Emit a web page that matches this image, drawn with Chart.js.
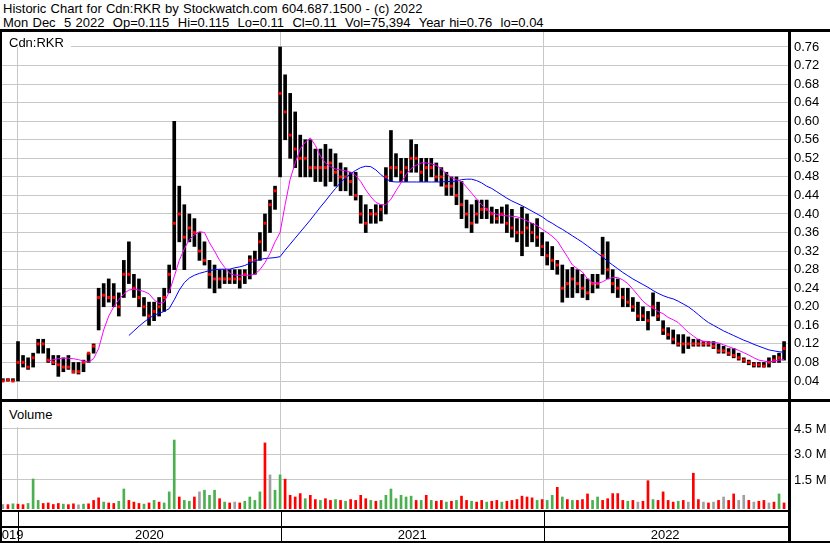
<!DOCTYPE html>
<html>
<head>
<meta charset="utf-8">
<title>Cdn:RKR historic chart</title>
<script src="https://cdn.jsdelivr.net/npm/chart.js@4.4.0/dist/chart.umd.min.js"></script>
<style>
body { margin: 0; background: #fff; }
#page { position: relative; width: 830px; height: 543px; overflow: hidden; background: #fff;
	font-family: "Liberation Sans", Arial, sans-serif; font-size: 13px; color: #000; }
#hdr { position: absolute; left: 3px; top: 1.5px; line-height: 14.7px; white-space: pre; word-spacing: 0.6px; }
.rule { position: absolute; background: #000; }
.lbl { position: absolute; background: #fff; line-height: 15px; white-space: pre; padding-left: 7px; }
canvas { position: absolute; left: 0; }
</style>
</head>
<body>
<div id="page">
	<canvas id="priceChart" width="830" height="367" style="top:32px"></canvas>
	<canvas id="volChart" width="830" height="141" style="top:402px"></canvas>
	<div id="hdr">Historic Chart for Cdn:RKR by Stockwatch.com 604.687.1500 - (c) 2022
Mon Dec  5 2022  Op=0.115  Hi=0.115  Lo=0.11  Cl=0.11  Vol=75,394  Year hi=0.76  lo=0.04</div>
	<div class="lbl" style="left:2px;top:32px;width:62px;height:12px;padding-top:3px">Cdn:RKR</div>
	<div class="lbl" style="left:2px;top:402px;width:55px;height:20px;padding-top:5px">Volume</div>
	<div class="rule" style="left:0;top:29px;width:830px;height:3px"></div>
	<div class="rule" style="left:0;top:399px;width:830px;height:3px"></div>
	<div class="rule" style="left:0;top:32px;width:2px;height:511px"></div>
	<div class="rule" style="left:788px;top:32px;width:3px;height:511px"></div>
	<div class="rule" style="left:0;top:510px;width:789px;height:2px"></div>
	<div class="rule" style="left:0;top:526px;width:789px;height:2px"></div>
	<div class="rule" style="left:0;top:541px;width:830px;height:2px"></div>
</div>
<script>
// weekly bars, first one is 3 weeks before Jan 1 2020 (x = weeks since Jan 1 2020)
var firstWeek = -3;

var yearLines = [0, 52.14, 104.29];
var yearNames = ['2019', '2020', '2021', '2022'];
var yearLabelAt = [-1.78, 26.07, 78.21, 128.4];

var priceTicks = [0.04, 0.08, 0.12, 0.16, 0.20, 0.24, 0.28, 0.32, 0.36, 0.40,
	0.44, 0.48, 0.52, 0.56, 0.60, 0.64, 0.68, 0.72, 0.76];
var volTicks = [1.5, 3.0, 4.5]; // millions

var hi = [
	.045, .045, .045, .125, .095, .09, .10, .13, .13, .11,      // w -3..6
	.095, .095, .09, .095, .08, .08, .085, .10, .12, .24,        // w 7..16
	.25, .26, .25, .23, .30, .34, .27, .26, .22, .21,            // w 17..26
	.21, .22, .24, .29, .60, .46, .42, .40, .39, .36,            // w 27..36
	.34, .30, .29, .28, .28, .28, .28, .28, .28, .31,            // w 37..46
	.32, .36, .40, .43, .46, .76, .70, .66, .62, .57,            // w 47..56
	.56, .56, .54, .54, .55, .54, .53, .51, .50, .49,            // w 57..66
	.49, .44, .42, .41, .42, .42, .50, .58, .53, .52,            // w 67..76
	.52, .56, .55, .52, .52, .52, .51, .50, .49, .48,            // w 77..86
	.48, .47, .43, .42, .43, .43, .43, .415, .41, .415,          // w 87..96
	.42, .41, .39, .415, .40, .38, .39, .36, .34, .33,           // w 97..106
	.30, .29, .28, .285, .28, .27, .26, .27, .27, .35,           // w 107..116
	.34, .28, .26, .24, .24, .22, .21, .20, .19, .23,            // w 117..126
	.21, .17, .155, .15, .14, .14, .135, .13, .13, .125,         // w 127..136
	.125, .125, .12, .115, .11, .11, .10, .09, .085, .08,        // w 137..146
	.08, .08, .09, .095, .10, .125                               // w 147..152
];
var lo = [
	.04, .04, .04, .04, .07, .065, .07, .10, .10, .08,
	.075, .05, .06, .065, .057, .055, .06, .08, .10, .15,
	.20, .21, .20, .18, .22, .25, .22, .20, .18, .16,
	.17, .18, .19, .23, .28, .34, .28, .34, .33, .30,
	.29, .24, .23, .24, .25, .25, .25, .24, .25, .26,
	.27, .30, .32, .36, .41, .48, .56, .52, .50, .48,
	.48, .48, .47, .47, .46, .47, .46, .45, .45, .44,
	.43, .38, .36, .38, .38, .385, .40, .47, .48, .47,
	.47, .49, .49, .47, .47, .48, .47, .46, .44, .44,
	.42, .39, .37, .36, .38, .39, .39, .38, .38, .38,
	.36, .35, .34, .31, .33, .34, .33, .31, .29, .28,
	.27, .21, .22, .22, .23, .22, .215, .23, .24, .27,
	.26, .23, .22, .20, .20, .19, .17, .17, .15, .18,
	.17, .14, .13, .12, .115, .10, .11, .115, .115, .115,
	.115, .11, .10, .10, .095, .09, .085, .08, .075, .07,
	.07, .07, .07, .08, .08, .085
];
var cl = [
	.04, .042, .04, .08, .08, .07, .09, .12, .12, .085,
	.08, .075, .07, .07, .06, .06, .08, .10, .115, .22,
	.225, .22, .22, .20, .27, .27, .24, .22, .20, .18,
	.19, .20, .22, .27, .38, .40, .35, .37, .36, .32,
	.30, .27, .26, .26, .26, .26, .26, .26, .27, .30,
	.30, .34, .38, .42, .45, .66, .62, .57, .54, .52,
	.52, .50, .50, .50, .50, .51, .49, .48, .48, .47,
	.44, .40, .38, .40, .40, .41, .48, .50, .50, .49,
	.50, .52, .52, .49, .50, .50, .48, .48, .46, .46,
	.44, .42, .40, .38, .40, .41, .41, .40, .39, .40,
	.38, .37, .36, .36, .37, .36, .35, .33, .31, .30,
	.29, .24, .25, .26, .25, .24, .23, .25, .25, .31,
	.28, .25, .24, .22, .21, .20, .18, .18, .17, .20,
	.18, .15, .14, .13, .12, .12, .12, .12, .12, .12,
	.12, .115, .105, .105, .10, .095, .09, .085, .08, .075,
	.075, .072, .08, .085, .09, .11
];
// pink (short) moving average
var maPink = [
	null, null, null, null, null, null, null, null, null, .083,
	.086, .088, .089, .089, .088, .086, .083, .081, .088, .11,
	.15, .18, .20, .215, .228, .236, .238, .236, .233, .228,
	.215, .207, .21, .232, .265, .30, .325, .345, .355, .362,
	.36, .338, .32, .30, .285, .272, .268, .268, .268, .268,
	.27, .28, .295, .315, .34, .36, .42, .475, .51, .54,
	.555, .564, .548, .525, .51, .502, .497, .495, .493, .49,
	.483, .47, .452, .437, .425, .42, .42, .432, .45, .467,
	.485, .498, .505, .51, .51, .508, .505, .497, .487, .478,
	.474, .47, .458, .445, .432, .42, .41, .403, .399, .397,
	.396, .395, .394, .39, .385, .38, .375, .367, .36, .352,
	.342, .325, .308, .29, .282, .275, .26, .252, .25, .254,
	.26, .263, .263, .258, .25, .238, .225, .212, .203, .197,
	.19, .185, .177, .172, .166, .155, .145, .137, .129, .126,
	.124, .123, .122, .118, .114, .11, .106, .101, .096, .09,
	.085, .083, .081, .083, .085, .086
];
// blue (long) moving average
var maBlue = [
	null, null, null, null, null, null, null, null, null, null,
	null, null, null, null, null, null, null, null, null, null,
	null, null, null, null, null, .138, .148, .158, .167, .175,
	.182, .186, .19, .196, .215, .236, .252, .262, .268, .272,
	.275, .278, .28, .281, .281, .281, .284, .286, .289, .294,
	.299, .302, .304, .305, .306, .308, .322, .335, .348, .361,
	.374, .387, .401, .415, .428, .442, .455, .468, .478, .487,
	.494, .5, .503, .502, .495, .485, .476, .47, .469, .469,
	.469, .469, .469, .469, .469, .469, .469, .469, .47, .47,
	.471, .474, .475, .475, .472, .467, .46, .455, .448, .441,
	.434, .428, .423, .418, .412, .406, .4, .394, .386, .38,
	.373, .367, .36, .353, .346, .339, .331, .323, .315, .307,
	.298, .29, .282, .274, .267, .26, .254, .248, .242, .235,
	.229, .224, .22, .217, .212, .206, .2, .192, .183, .174,
	.166, .16, .154, .148, .143, .138, .133, .128, .124, .119,
	.115, .111, .107, .105, .103, .102
];
// volume in millions, and bar colour: r = down, g = up, k = unchanged
var vol = [
	.06, .05, .1, .08, .05, .12, 1.56, .3, .12, .15,
	.06, .12, .08, .05, .1, .04, .08, .1, .3, .45,
	.2, .15, .12, .25, .97, .3, .2, .12, .08, .15,
	.3, .2, .15, .8, 3.85, .5, .3, .25, .5, .8,
	.9, .6, .9, .4, .2, .15, .2, .15, .25, .5,
	.3, .8, 3.68, 1.8, .9, 1.8, 1.55, .6, .5, .7,
	.4, .6, .35, .3, .4, .3, .35, .3, .25, .35,
	.3, .6, .4, .3, .25, .3, .6, .97, .4, .6,
	.5, .55, .3, .3, .6, .3, .25, .3, .2, .25,
	.3, .55, .3, .25, .2, .3, .2, .25, .3, .2,
	.25, .3, .35, .55, .5, .45, .3, .35, .3, .6,
	1.07, .5, .35, .3, .3, .35, .68, .3, .5, .3,
	.4, .7, .7, .3, .25, .3, .2, .25, 1.46, .35,
	.3, .8, .3, .2, .25, .3, .2, 1.9, .35, .2,
	.15, .2, .3, .5, .3, .68, .3, .6, .3, .2,
	.25, .3, .15, .2, .68, .15
];
var volDir = [
	'k','r','g','r','r','g','g','g','r','r',
	'r','r','g','r','r','k','g','r','r','r',
	'g','r','r','g','g','r','r','r','g','r',
	'g','r','g','g','g','r','g','g','r','k',
	'g','g','g','r','g','r','k','r','g','g',
	'g','g','r','k','g','g','r','r','r','r',
	'g','r','r','g','r','r','g','r','g','r',
	'r','r','r','g','r','g','g','g','g','g',
	'g','g','r','g','r','g','r','r','g','r',
	'g','r','r','g','r','r','g','r','r','g',
	'r','r','r','r','r','r','g','r','g','g',
	'r','g','r','g','r','r','r','g','g','r',
	'r','r','r','r','g','r','k','r','r','g',
	'r','r','r','r','g','r','k','r','r','k',
	'r','k','r','k','r','r','k','k','r','k',
	'r','r','k','r','g','r'
];

// x range: Jan 1 2020 sits 18px from the left, about 5.04px a week
var xMin = -3.571;
var xMax = 152.78;

var dirColor = { r: '#ff0000', g: '#4caf50', k: '#a0a0a0' };
var gridGrey = '#c8c8c8';

Chart.defaults.font.family = '"Liberation Sans", Arial, sans-serif';
Chart.defaults.font.size = 13;
Chart.defaults.color = '#000';

function pts(arr) {
	var out = [];
	for (var i = 0; i < arr.length; i++) {
		if (arr[i] !== null) out.push({ x: firstWeek + i, y: arr[i] });
	}
	return out;
}

var rangeBars = [];
for (var i = 0; i < hi.length; i++) {
	rangeBars.push({ x: firstWeek + i, y: [lo[i], hi[i]] });
}
var volColors = volDir.map(function(d) { return dirColor[d]; });

function noPad(s) { s.paddingLeft = 0; s.paddingRight = 0; s.paddingTop = 0; s.paddingBottom = 0; }

// price panel
new Chart(document.getElementById('priceChart'), {
	type: 'bar',
	data: {
		datasets: [
			{ type: 'line', data: pts(maPink), borderColor: '#ff00ff', borderWidth: 1, pointRadius: 0, tension: 0, order: 1 },
			{ type: 'line', data: pts(maBlue), borderColor: '#0000ff', borderWidth: 1, pointRadius: 0, tension: 0, order: 1 },
			{ type: 'line', data: pts(cl), showLine: false, pointStyle: 'rect', pointRadius: 2.1,
				pointBackgroundColor: '#ff0000', pointBorderWidth: 0, order: 2 },
			{ type: 'bar', data: rangeBars, backgroundColor: '#000', barThickness: 3, order: 3 }
		]
	},
	options: {
		responsive: false, animation: false, devicePixelRatio: 1,
		layout: { padding: 0, autoPadding: false },
		plugins: { legend: { display: false }, tooltip: { enabled: false } },
		scales: {
			x: {
				type: 'linear', min: xMin, max: xMax, offset: false,
				afterBuildTicks: function(s) { s.ticks = yearLines.map(function(v) { return { value: v }; }); },
				afterFit: function(s) { s.height = 0; noPad(s); },
				ticks: { display: false },
				border: { display: false },
				grid: { color: gridGrey, drawTicks: false, offset: false }
			},
			y: {
				position: 'right', min: 0.0012, max: 0.7923,
				afterBuildTicks: function(s) { s.ticks = priceTicks.map(function(v) { return { value: v }; }); },
				afterFit: function(s) { s.width = 42; noPad(s); },
				ticks: { padding: 6, callback: function(v) { return v.toFixed(2); } },
				border: { display: false },
				grid: { color: gridGrey, drawTicks: false }
			}
		}
	}
});

// black year lines in the date strip under the volume panel
var stripLines = {
	id: 'stripLines',
	afterDraw: function(chart) {
		var ctx = chart.ctx;
		var xs = chart.scales.x;
		ctx.save();
		ctx.fillStyle = '#000';
		yearLines.forEach(function(v) {
			var px = Math.round(xs.getPixelForValue(v));
			ctx.fillRect(px, 110, 1, 29);
		});
		ctx.restore();
	}
};

// volume panel
new Chart(document.getElementById('volChart'), {
	type: 'bar',
	data: {
		datasets: [{
			data: pts(vol), backgroundColor: volColors, barThickness: 2, base: -0.206
		}]
	},
	options: {
		responsive: false, animation: false, devicePixelRatio: 1,
		layout: { padding: 0, autoPadding: false },
		plugins: { legend: { display: false }, tooltip: { enabled: false } },
		scales: {
			x: {
				type: 'linear', min: xMin, max: xMax, offset: false,
				afterBuildTicks: function(s) {
					var t = yearLines.concat(yearLabelAt).sort(function(a, b) { return a - b; });
					s.ticks = t.map(function(v) { return { value: v }; });
				},
				afterFit: function(s) { s.height = 34; noPad(s); },
				ticks: {
					autoSkip: false, maxRotation: 0, padding: 19,
					callback: function(v) {
						var k = yearLabelAt.indexOf(v);
						return k >= 0 ? yearNames[k] : '';
					}
				},
				border: { display: false },
				grid: {
					drawTicks: false, offset: false,
					color: function(c) {
						if (!c.tick) return 'rgba(0,0,0,0)';
						return yearLines.indexOf(c.tick.value) >= 0 ? gridGrey : 'rgba(0,0,0,0)';
					}
				}
			},
			y: {
				position: 'right', min: -0.206, max: 6.088,
				afterBuildTicks: function(s) { s.ticks = volTicks.map(function(v) { return { value: v }; }); },
				afterFit: function(s) { s.width = 42; noPad(s); },
				ticks: { padding: 6, callback: function(v) { return v.toFixed(1) + ' M'; } },
				border: { display: false },
				grid: { color: gridGrey, drawTicks: false }
			}
		}
	},
	plugins: [stripLines]
});
</script>
</body>
</html>
